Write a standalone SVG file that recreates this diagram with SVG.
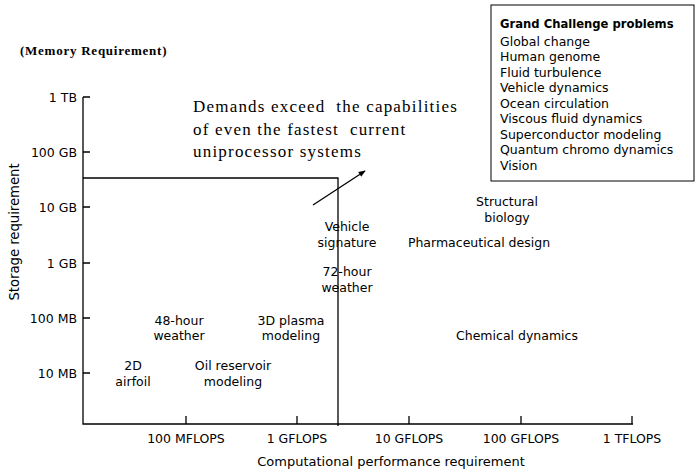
<svg xmlns="http://www.w3.org/2000/svg" width="700" height="471" viewBox="0 0 700 471">
<defs>
<style>
.s{font-family:"DejaVu Sans","Liberation Sans",sans-serif;font-size:12.5px;fill:#000}
.c{text-anchor:middle}
.r{text-anchor:end}
.t{font-family:"Liberation Serif","Times New Roman",serif;font-size:17px;letter-spacing:1.2px;fill:#000;white-space:pre}
.ln{stroke:#000;stroke-width:1.3;fill:none}
.tk{stroke:#000;stroke-width:1.3;fill:none}
</style>
<marker id="ah" viewBox="0 0 10 10" refX="9" refY="5" markerWidth="7" markerHeight="7" markerUnits="userSpaceOnUse" orient="auto">
<path d="M0,1 L10,5 L0,9 z" fill="#000"/>
</marker>
</defs>
<rect width="700" height="471" fill="#fff"/>
<g id="axes">
<path class="ln" d="M83,97 V424 H633"/>
<path class="tk" d="M83,97 H90 M83,152 H90 M83,207 H90 M83,263 H90 M83,318 H90 M83,373 H90"/>
<path class="tk" d="M186,424 V416 M297,424 V416 M409,424 V416 M521,424 V416 M632,424 V416"/>
<text class="s r" x="77" y="102">1 TB</text>
<text class="s r" x="77" y="157">100 GB</text>
<text class="s r" x="77" y="212">10 GB</text>
<text class="s r" x="77" y="268">1 GB</text>
<text class="s r" x="77" y="323">100 MB</text>
<text class="s r" x="77" y="378">10 MB</text>
<text class="s c" x="186" y="443">100 MFLOPS</text>
<text class="s c" x="297" y="443">1 GFLOPS</text>
<text class="s c" x="409" y="443">10 GFLOPS</text>
<text class="s c" x="521" y="443">100 GFLOPS</text>
<text class="s c" x="632" y="443">1 TFLOPS</text>
<text class="s c" x="391" y="466" style="font-size:13px">Computational performance requirement</text>
<text class="s c" transform="translate(19,232) rotate(-90)" style="font-size:13.2px">Storage requirement</text>
<text x="20" y="55" style="font-family:'Liberation Serif',serif;font-size:13px;letter-spacing:0.75px;font-weight:bold">(Memory Requirement)</text>
</g>
<g id="connectors">
<path class="ln" d="M83,178 H338 V426"/>
<path class="ln" d="M313,205 L365,171" marker-end="url(#ah)"/>
</g>
<g id="note">
<text class="t" x="193" y="112">Demands exceed  the capabilities</text>
<text class="t" x="193" y="135">of even the fastest  current</text>
<text class="t" x="193" y="157">uniprocessor systems</text>
</g>
<g id="legend">
<rect x="491" y="5" width="203" height="176" fill="#fff" stroke="#000" stroke-width="1"/>
<text class="s" x="500" y="28" style="font-weight:bold;font-size:11.6px">Grand Challenge problems</text>
<text class="s" x="500" y="46">Global change</text>
<text class="s" x="500" y="61">Human genome</text>
<text class="s" x="500" y="77">Fluid turbulence</text>
<text class="s" x="500" y="92">Vehicle dynamics</text>
<text class="s" x="500" y="108">Ocean circulation</text>
<text class="s" x="500" y="123">Viscous fluid dynamics</text>
<text class="s" x="500" y="139">Superconductor modeling</text>
<text class="s" x="500" y="154">Quantum chromo dynamics</text>
<text class="s" x="500" y="170">Vision</text>
</g>
<g id="structural"><text class="s c" x="507" y="206">Structural</text><text class="s c" x="507" y="222">biology</text></g>
<g id="vehicle"><text class="s c" x="347" y="231">Vehicle</text><text class="s c" x="347" y="247">signature</text></g>
<g id="pharma"><text class="s c" x="479" y="247">Pharmaceutical design</text></g>
<g id="w72"><text class="s c" x="347" y="276">72-hour</text><text class="s c" x="347" y="292">weather</text></g>
<g id="w48"><text class="s c" x="179" y="325">48-hour</text><text class="s c" x="179" y="340">weather</text></g>
<g id="plasma"><text class="s c" x="291" y="325">3D plasma</text><text class="s c" x="291" y="340">modeling</text></g>
<g id="chem"><text class="s c" x="517" y="340">Chemical dynamics</text></g>
<g id="airfoil"><text class="s c" x="133" y="370">2D</text><text class="s c" x="133" y="386">airfoil</text></g>
<g id="oil"><text class="s c" x="233" y="370">Oil reservoir</text><text class="s c" x="233" y="386">modeling</text></g>
</svg>
